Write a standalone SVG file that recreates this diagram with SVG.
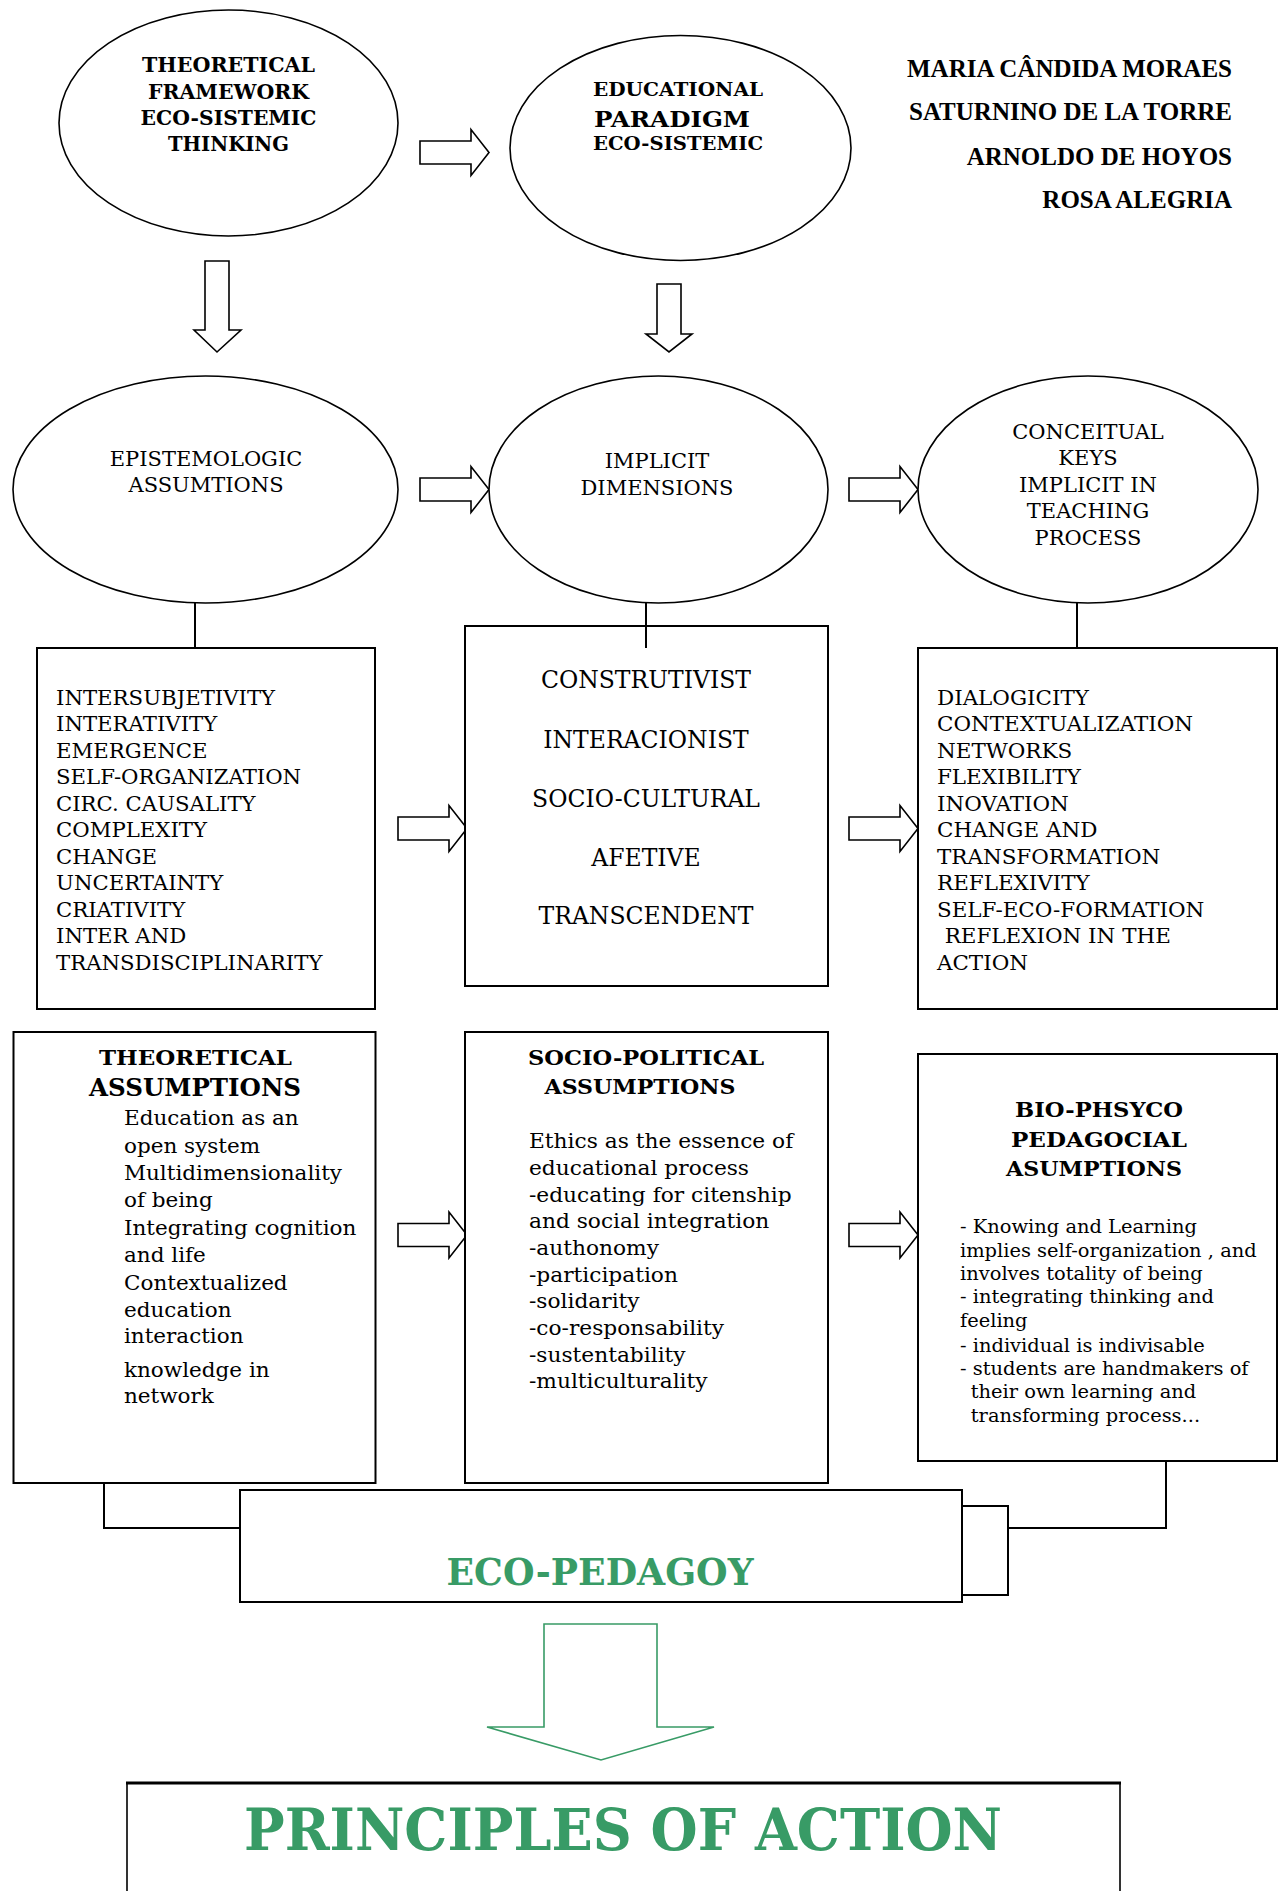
<svg xmlns="http://www.w3.org/2000/svg" width="1278" height="1891" viewBox="0 0 1278 1891">
<defs>
<style>
.el{fill:#fff;stroke:#000;stroke-width:1.6}
.bx{fill:#fff;stroke:#000;stroke-width:2}
.ar{fill:#fff;stroke:#000;stroke-width:1.6}
.ln{fill:none;stroke:#000;stroke-width:2}
.t{font-family:"DejaVu Serif",serif;fill:#000}
.a{font-family:"Liberation Serif",serif;font-weight:bold;font-size:25px;fill:#000;text-anchor:end}
.b{font-weight:bold}
.c{text-anchor:middle}
.g{fill:#389b66}
.s19{font-size:19.5px}
.s24{font-size:23.5px}
.s21{font-size:21px}
.s20{font-size:20.5px}
.s18{font-size:18px}
</style>
<path id="rarrow" class="ar" d="M0,-11.5 H51 V-23 L69,0 L51,23 V11.5 H0 Z"/>
</defs>

<g id="authors">
<text class="a" x="1232" y="77">MARIA CÂNDIDA MORAES</text>
<text class="a" x="1232" y="120">SATURNINO DE LA TORRE</text>
<text class="a" x="1232" y="165">ARNOLDO DE HOYOS</text>
<text class="a" x="1232" y="208">ROSA ALEGRIA</text>
</g>

<g id="connectors">
<use href="#rarrow" x="420" y="152.5"/>
<use href="#rarrow" x="420" y="489.5"/>
<use href="#rarrow" x="849" y="489.5"/>
<use href="#rarrow" x="398" y="828.5"/>
<use href="#rarrow" x="849" y="828.5"/>
<use href="#rarrow" x="398" y="1235"/>
<use href="#rarrow" x="849" y="1235"/>
<polygon class="ar" points="205,261 229,261 229,330 241,330 217,352 194,330 205,330"/>
<polygon class="ar" points="657,284 681,284 681,334 692,334 669,352 646,334 657,334"/>
<line class="ln" x1="195" y1="603" x2="195" y2="648"/>
<line class="ln" x1="1077" y1="603" x2="1077" y2="648"/>
<polyline class="ln" points="104,1483 104,1528 240,1528"/>
<polyline class="ln" points="1166,1461 1166,1528 1008,1528"/>
<polygon points="544,1624 657,1624 657,1727 714,1727 601,1760 487,1727 544,1727" fill="#fff" stroke="#389b66" stroke-width="1.6"/>
</g>

<g id="theoretical-framework">
<ellipse class="el" cx="228.5" cy="123" rx="169.5" ry="113"/>
<text class="t b c" font-size="19.5"><tspan x="228.5" y="72" textLength="173" lengthAdjust="spacingAndGlyphs">THEORETICAL</tspan><tspan x="228.5" y="99" textLength="161" lengthAdjust="spacingAndGlyphs">FRAMEWORK</tspan><tspan x="228.5" y="125" textLength="176" lengthAdjust="spacingAndGlyphs">ECO-SISTEMIC</tspan><tspan x="228.5" y="151" textLength="121" lengthAdjust="spacingAndGlyphs">THINKING</tspan></text>
</g>

<g id="educational-paradigm">
<ellipse class="el" cx="680.5" cy="148" rx="170.5" ry="112.5"/>
<text class="t b" font-size="18.5"><tspan x="593" y="96" textLength="170" lengthAdjust="spacingAndGlyphs">EDUCATIONAL</tspan></text>
<text class="t b" font-size="22.5"><tspan x="594" y="127" textLength="156" lengthAdjust="spacingAndGlyphs">PARADIGM</tspan></text>
<text class="t b" font-size="18.5"><tspan x="593" y="150" textLength="170" lengthAdjust="spacingAndGlyphs">ECO-SISTEMIC</tspan></text>
</g>

<g id="epistemologic">
<ellipse class="el" cx="205.5" cy="489.5" rx="192.5" ry="113.5"/>
<text class="t c s21"><tspan x="206" y="466">EPISTEMOLOGIC</tspan><tspan x="206" y="492">ASSUMTIONS</tspan></text>
</g>

<g id="implicit-dimensions">
<ellipse class="el" cx="658.5" cy="489.5" rx="169.5" ry="113.5"/>
<text class="t c s21"><tspan x="657" y="468">IMPLICIT</tspan><tspan x="657" y="494.5">DIMENSIONS</tspan></text>
</g>

<g id="conceitual-keys">
<ellipse class="el" cx="1088" cy="489.5" rx="170" ry="113.5"/>
<text class="t c s21"><tspan x="1088" y="439">CONCEITUAL</tspan><tspan x="1088" y="465">KEYS</tspan><tspan x="1088" y="492">IMPLICIT IN</tspan><tspan x="1088" y="518">TEACHING</tspan><tspan x="1088" y="545">PROCESS</tspan></text>
</g>

<g id="epistemologic-list">
<rect class="bx" x="37" y="648" width="338" height="361"/>
<text class="t s19" transform="translate(56,0) scale(1.09,1) translate(-56,0)"><tspan x="56" y="705">INTERSUBJETIVITY</tspan><tspan x="56" y="731.5">INTERATIVITY</tspan><tspan x="56" y="758">EMERGENCE</tspan><tspan x="56" y="784.5">SELF-ORGANIZATION</tspan><tspan x="56" y="811">CIRC. CAUSALITY</tspan><tspan x="56" y="837.5">COMPLEXITY</tspan><tspan x="56" y="864">CHANGE</tspan><tspan x="56" y="890.5">UNCERTAINTY</tspan><tspan x="56" y="917">CRIATIVITY</tspan><tspan x="56" y="943.5">INTER AND</tspan><tspan x="56" y="970">TRANSDISCIPLINARITY</tspan></text>
</g>

<g id="dimensions-list">
<rect class="bx" x="465" y="626" width="363" height="360"/>
<text class="t c s24"><tspan x="646" y="688">CONSTRUTIVIST</tspan><tspan x="646" y="747.5">INTERACIONIST</tspan><tspan x="646" y="807">SOCIO-CULTURAL</tspan><tspan x="646" y="866">AFETIVE</tspan><tspan x="646" y="924">TRANSCENDENT</tspan></text>
<line class="ln" x1="646" y1="603" x2="646" y2="648"/>
</g>

<g id="keys-list">
<rect class="bx" x="918" y="648" width="359" height="361"/>
<text class="t s19" transform="translate(937,0) scale(1.1,1) translate(-937,0)"><tspan x="937" y="705">DIALOGICITY</tspan><tspan x="937" y="731.5">CONTEXTUALIZATION</tspan><tspan x="937" y="758">NETWORKS</tspan><tspan x="937" y="784.5">FLEXIBILITY</tspan><tspan x="937" y="811">INOVATION</tspan><tspan x="937" y="837.5">CHANGE AND</tspan><tspan x="937" y="864">TRANSFORMATION</tspan><tspan x="937" y="890.5">REFLEXIVITY</tspan><tspan x="937" y="917">SELF-ECO-FORMATION</tspan><tspan x="944" y="943.5">REFLEXION IN THE</tspan><tspan x="937" y="970">ACTION</tspan></text>
</g>

<g id="theoretical-assumptions">
<rect class="bx" x="13.5" y="1032" width="362" height="451"/>
<text class="t b c" font-size="21"><tspan x="195.5" y="1065" textLength="193" lengthAdjust="spacingAndGlyphs">THEORETICAL</tspan></text>
<text class="t b c" font-size="23.5"><tspan x="195" y="1096" textLength="212" lengthAdjust="spacingAndGlyphs">ASSUMPTIONS</tspan></text>
<text class="t s20" transform="translate(124,0) scale(1.05,1) translate(-124,0)"><tspan x="124" y="1125">Education as an</tspan><tspan x="124" y="1153">open system</tspan><tspan x="124" y="1180">Multidimensionality</tspan><tspan x="124" y="1207">of being</tspan><tspan x="124" y="1235">Integrating cognition</tspan><tspan x="124" y="1262">and life</tspan><tspan x="124" y="1290">Contextualized</tspan><tspan x="124" y="1317">education</tspan><tspan x="124" y="1343">interaction</tspan><tspan x="124" y="1377">knowledge in</tspan><tspan x="124" y="1403">network</tspan></text>
</g>

<g id="socio-political-assumptions">
<rect class="bx" x="465" y="1032" width="363" height="451"/>
<text class="t b c" font-size="21"><tspan x="646" y="1065" textLength="236" lengthAdjust="spacingAndGlyphs">SOCIO-POLITICAL</tspan><tspan x="640" y="1094" textLength="191" lengthAdjust="spacingAndGlyphs">ASSUMPTIONS</tspan></text>
<text class="t s20" transform="translate(529,0) scale(1.06,1) translate(-529,0)"><tspan x="529" y="1148">Ethics as the essence of</tspan><tspan x="529" y="1175">educational process</tspan><tspan x="529" y="1202">-educating for citenship</tspan><tspan x="529" y="1228">and social integration</tspan><tspan x="529" y="1255">-authonomy</tspan><tspan x="529" y="1282">-participation</tspan><tspan x="529" y="1308">-solidarity</tspan><tspan x="529" y="1335">-co-responsability</tspan><tspan x="529" y="1362">-sustentability</tspan><tspan x="529" y="1388">-multiculturality</tspan></text>
</g>

<g id="bio-psycho-assumptions">
<rect class="bx" x="918" y="1054" width="359" height="407"/>
<text class="t b c" font-size="21"><tspan x="1099" y="1117" textLength="168" lengthAdjust="spacingAndGlyphs">BIO-PHSYCO</tspan><tspan x="1099" y="1147" textLength="176" lengthAdjust="spacingAndGlyphs">PEDAGOCIAL</tspan><tspan x="1094" y="1176" textLength="176" lengthAdjust="spacingAndGlyphs">ASUMPTIONS</tspan></text>
<text class="t s18" transform="translate(960,0) scale(1.08,1) translate(-960,0)"><tspan x="960" y="1233">- Knowing and Learning</tspan><tspan x="960" y="1257">implies self-organization , and</tspan><tspan x="960" y="1280">involves totality of being</tspan><tspan x="960" y="1303">- integrating thinking and</tspan><tspan x="960" y="1327">feeling</tspan><tspan x="960" y="1352">- individual is indivisable</tspan><tspan x="960" y="1375">- students are handmakers of</tspan><tspan x="970" y="1398">their own learning and</tspan><tspan x="970" y="1422">transforming process...</tspan></text>
</g>

<g id="eco-pedagogy">
<rect class="bx" x="962" y="1506" width="46" height="89"/>
<rect class="bx" x="240" y="1490" width="722" height="112"/>
<text class="t b c g" font-size="37"><tspan x="600" y="1585" textLength="307" lengthAdjust="spacingAndGlyphs">ECO-PEDAGOY</tspan></text>
</g>

<g id="principles-of-action">
<rect x="127" y="1783" width="993" height="200" fill="#fff" stroke="#000" stroke-width="1.6"/>
<line x1="126" y1="1783" x2="1121" y2="1783" stroke="#000" stroke-width="3"/>
<text class="t b c g" font-size="57"><tspan x="623" y="1850" textLength="758" lengthAdjust="spacingAndGlyphs">PRINCIPLES OF ACTION</tspan></text>
</g>
</svg>
